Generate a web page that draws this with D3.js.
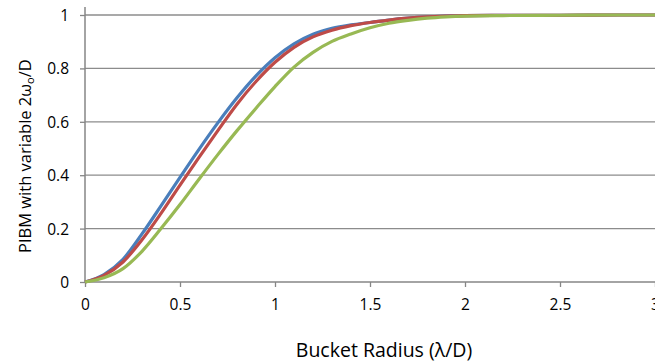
<!DOCTYPE html>
<html>
<head>
<meta charset="utf-8">
<script src="https://cdn.jsdelivr.net/npm/d3@7"></script>
<style>
  html, body { margin: 0; padding: 0; background: #fff; }
  svg { display: block; }
  text { font-family: "Open Sans", "Liberation Sans", sans-serif; fill: #000; }
</style>
</head>
<body>
<svg id="chart" width="655" height="363"></svg>
<script>
// Bucket radius (λ/D)
const radius = [0, 0.1, 0.2, 0.3, 0.4, 0.5, 0.6, 0.7, 0.8, 0.9, 1.0, 1.1, 1.2, 1.3, 1.4, 1.5, 1.6, 1.7, 1.8, 1.9, 2.0, 2.2, 2.5, 2.8, 3.0];
// PIBM series
const blueSeries  = [0, 0.028, 0.085, 0.180, 0.285, 0.392, 0.497, 0.597, 0.690, 0.772, 0.840, 0.892, 0.928, 0.950, 0.963, 0.972, 0.981, 0.988, 0.993, 0.996, 0.998, 0.999, 0.999, 1.0, 1.0];
const redSeries   = [0, 0.025, 0.075, 0.158, 0.257, 0.363, 0.467, 0.568, 0.666, 0.751, 0.823, 0.879, 0.918, 0.943, 0.960, 0.972, 0.981, 0.988, 0.993, 0.996, 0.998, 0.999, 0.999, 1.0, 1.0];
const greenSeries = [0, 0.016, 0.050, 0.115, 0.200, 0.290, 0.385, 0.478, 0.567, 0.651, 0.732, 0.805, 0.860, 0.901, 0.929, 0.952, 0.969, 0.980, 0.988, 0.993, 0.996, 0.998, 0.999, 1.0, 1.0];
const xTicks = [0, 0.5, 1, 1.5, 2, 2.5, 3];
const yTicks = [0, 0.2, 0.4, 0.6, 0.8, 1];
const seriesColors = ["#4A7EBB", "#BE4B48", "#98B954"];

const svg = d3.select("#chart");
const mLeft = 85, mRight = 655, mTop = 15, mBottom = 282;

const x = d3.scaleLinear().domain([0, 3]).range([mLeft, mRight]);
const y = d3.scaleLinear().domain([0, 1]).range([mBottom, mTop]);

// gridlines
svg.append("g").selectAll("line").data(yTicks.filter(d => d > 0)).join("line")
  .attr("x1", mLeft).attr("x2", mRight)
  .attr("y1", d => y(d)).attr("y2", d => y(d))
  .attr("stroke", "#8c8c8c").attr("stroke-width", 1.3);

// y axis
const yAxis = d3.axisLeft(y).tickValues(yTicks).tickFormat(d3.format("")).tickSize(5).tickPadding(11);
const gy = svg.append("g").attr("transform", `translate(${mLeft},0)`).call(yAxis);
gy.select(".domain").remove();
gy.selectAll(".tick line").attr("stroke", "#868686").attr("stroke-width", 1.3);
gy.selectAll(".tick text").style("font-size", "15.5px").attr("dy", "0.36em");
gy.append("line").attr("x1", 0).attr("x2", 0).attr("y1", 7).attr("y2", mBottom)
  .attr("stroke", "#868686").attr("stroke-width", 1.5);

// x axis
const xAxis = d3.axisBottom(x).tickValues(xTicks).tickFormat(d3.format("")).tickSize(5).tickPadding(12);
const gx = svg.append("g").attr("transform", `translate(0,${mBottom})`).call(xAxis);
gx.select(".domain").remove();
gx.selectAll(".tick line").attr("stroke", "#868686").attr("stroke-width", 1.3);
gx.selectAll(".tick text").style("font-size", "15.5px");
gx.append("line").attr("x1", mLeft).attr("x2", mRight).attr("y1", 0).attr("y2", 0)
  .attr("stroke", "#868686").attr("stroke-width", 1.5);

// lines
const allSeries = [blueSeries, redSeries, greenSeries];
const line = d3.line().x((d, i) => x(radius[i])).y(d => y(d)).curve(d3.curveMonotoneX);
svg.append("g").selectAll("path").data(allSeries).join("path")
  .attr("d", d => line(d))
  .attr("fill", "none")
  .attr("stroke", (d, i) => seriesColors[i])
  .attr("stroke-width", 3.2)
  .attr("stroke-linejoin", "round");

// axis titles
svg.append("text").attr("x", 384).attr("y", 357)
  .attr("text-anchor", "middle").style("font-size", "19.5px")
  .text("Bucket Radius (λ/D)");

const yt = svg.append("text")
  .attr("transform", "translate(31,253) rotate(-90)")
  .attr("text-anchor", "start").style("font-size", "16.5px");
yt.append("tspan").text("PIBM with variable 2ω");
yt.append("tspan").attr("dy", 3).style("font-size", "11px").text("o");
yt.append("tspan").attr("dy", -3).text("/D");
</script>
</body>
</html>
